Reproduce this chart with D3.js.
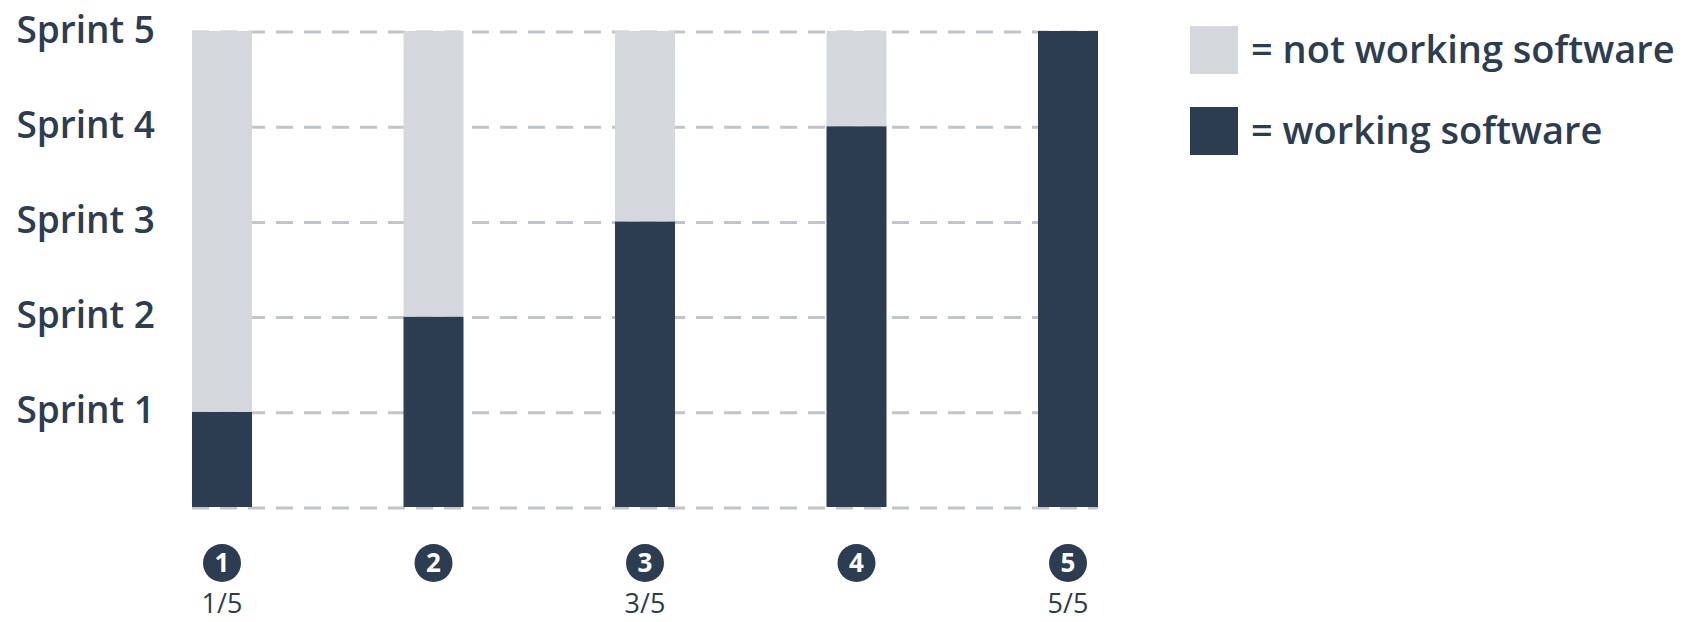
<!DOCTYPE html>
<html>
<head>
<meta charset="utf-8">
<script src="https://cdn.jsdelivr.net/npm/d3@7"></script>
<style>
  html, body { margin: 0; padding: 0; background: #ffffff; }
  svg { display: block; font-family: "Open Sans", "Noto Sans", sans-serif; }
</style>
</head>
<body>
<svg id="chart" width="1696" height="622"></svg>
<script>
// Sprint data
const sprints = [1, 2, 3, 4, 5];
const working = [1, 2, 3, 4, 5];
const notWorking = [4, 3, 2, 1, 0];
const tickValues = [1, 2, 3, 4, 5];
const tickLabels = ["Sprint 1", "Sprint 2", "Sprint 3", "Sprint 4", "Sprint 5"];
const progressLabels = ["1/5", "", "3/5", "", "5/5"];
const legendItems = ["= not working software", "= working software"];

const DARK = "#2c3d52";
const LIGHT = "#d4d7dc";
const GRID = "#c1c4c9";
const TEXT = "#2c3d52";

const svg = d3.select("#chart");

const x = d3.scalePoint().domain(sprints).range([222, 1068]);
const y = d3.scaleLinear().domain([0, 5]).range([507, 31]);
const barW = 60;

// dashed gridlines (drawn beneath the bars)
svg.append("g")
  .selectAll("line")
  .data([0].concat(tickValues))
  .join("line")
  .attr("x1", x(1) - barW / 2)
  .attr("x2", x(5) + barW / 2)
  .attr("y1", d => y(d) + 1)
  .attr("y2", d => y(d) + 1)
  .attr("stroke", GRID)
  .attr("stroke-width", 3)
  .attr("stroke-dasharray", "17 11");

// stacked bars
const stack = sprints.map((s, i) => ({ s, w: working[i], n: notWorking[i] }));
const bars = svg.append("g");
bars.selectAll("rect.working")
  .data(stack)
  .join("rect")
  .attr("class", "working")
  .attr("x", d => x(d.s) - barW / 2)
  .attr("width", barW)
  .attr("y", d => y(d.w))
  .attr("height", d => y(0) - y(d.w))
  .attr("fill", DARK);
bars.selectAll("rect.notworking")
  .data(stack.filter(d => d.n > 0))
  .join("rect")
  .attr("class", "notworking")
  .attr("x", d => x(d.s) - barW / 2)
  .attr("width", barW)
  .attr("y", d => y(d.w + d.n))
  .attr("height", d => y(d.w) - y(d.w + d.n))
  .attr("fill", LIGHT);

// y-axis labels
const yAxis = d3.axisLeft(y)
  .tickValues(tickValues)
  .tickFormat((d, i) => tickLabels[i])
  .tickSize(0)
  .tickPadding(0);
const yg = svg.append("g").attr("transform", "translate(155,0)").call(yAxis);
yg.select(".domain").remove();
yg.selectAll("text")
  .attr("fill", TEXT)
  .attr("font-family", "'Open Sans', sans-serif")
  .attr("font-size", 37)
  .attr("font-weight", 600)
  .attr("dy", "0.3em");

// numbered circles under each bar
const nums = svg.append("g");
nums.selectAll("circle")
  .data(sprints)
  .join("circle")
  .attr("cx", d => x(d))
  .attr("cy", 563)
  .attr("r", 19)
  .attr("fill", DARK);
nums.selectAll("text")
  .data(sprints)
  .join("text")
  .attr("x", d => x(d))
  .attr("y", 572)
  .attr("text-anchor", "middle")
  .attr("fill", "#ffffff")
  .attr("font-size", 26)
  .attr("font-weight", 700)
  .text(d => d);

// progress labels
svg.append("g")
  .selectAll("text")
  .data(sprints.filter((d, i) => progressLabels[i]))
  .join("text")
  .attr("x", d => x(d))
  .attr("y", 613)
  .attr("text-anchor", "middle")
  .attr("fill", TEXT)
  .attr("font-size", 27)
  .attr("font-weight", 500)
  .text(d => progressLabels[d - 1]);

// legend
const legend = svg.append("g").attr("transform", "translate(1190,26)");
const legendColors = [LIGHT, DARK];
const lg = legend.selectAll("g")
  .data(legendItems)
  .join("g")
  .attr("transform", (d, i) => `translate(0,${i * 81})`);
lg.append("rect")
  .attr("width", 48)
  .attr("height", 48)
  .attr("fill", (d, i) => legendColors[i]);
lg.append("text")
  .attr("x", 61)
  .attr("y", 37)
  .attr("fill", TEXT)
  .attr("font-size", 38)
  .attr("font-weight", 600)
  .text(d => d);
</script>
</body>
</html>
